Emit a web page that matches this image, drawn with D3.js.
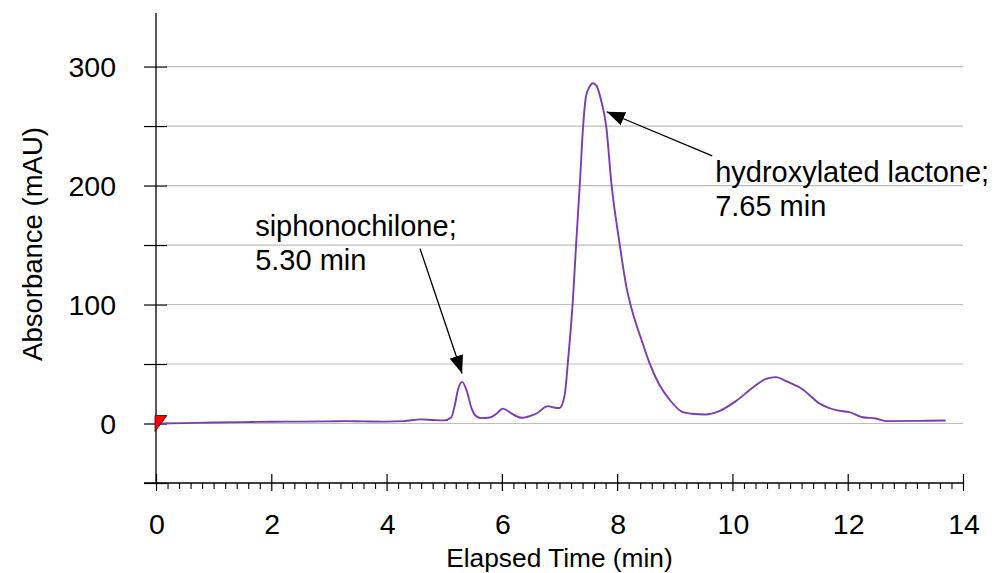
<!DOCTYPE html>
<html>
<head>
<meta charset="utf-8">
<script src="https://cdn.jsdelivr.net/npm/d3@7"></script>
<style>
  html, body { margin: 0; padding: 0; background: #fff; }
  svg { display: block; font-family: "Liberation Sans", Arial, Helvetica, sans-serif; }
</style>
</head>
<body>
<svg id="chart" width="995" height="573"></svg>
<script>
// ---- data ----
const times = [0, 0.5, 1, 1.5, 2, 2.5, 3, 3.3, 3.6, 4, 4.3, 4.6, 4.8, 5.0, 5.12, 5.18, 5.24, 5.31, 5.4, 5.47, 5.56, 5.65, 5.79, 5.9, 6.02, 6.15, 6.34, 6.5, 6.6, 6.8, 6.9, 7.0, 7.09, 7.15, 7.23, 7.29, 7.35, 7.41, 7.46, 7.52, 7.58, 7.64, 7.73, 7.81, 7.9, 8.04, 8.16, 8.27, 8.42, 8.56, 8.73, 8.91, 9.14, 9.3, 9.54, 9.77, 10.06, 10.35, 10.58, 10.76, 10.93, 11.22, 11.51, 11.8, 12.03, 12.26, 12.49, 12.66, 13.24, 13.7];
const absorbance = [0, 0.3, 0.8, 1.2, 1.5, 1.6, 1.8, 2, 1.8, 1.6, 2, 3.5, 3, 2.6, 5, 14.6, 28.5, 35, 26, 13.4, 6, 4.5, 5, 8, 12.5, 9, 4.8, 6.5, 8.4, 14.6, 13.5, 13, 24, 54, 102, 152, 199, 250, 275, 283, 286, 284, 270, 250, 202, 152, 115, 93, 70.6, 51, 32.8, 20, 9.5, 8.2, 7.6, 10.4, 18.8, 30, 37.5, 39, 35.6, 28.6, 16.8, 11.2, 9.5, 5.3, 4.2, 2, 2.2, 2.5];

const xTickValues = [0, 2, 4, 6, 8, 10, 12, 14];
const yTickLabels = [0, 100, 200, 300];
const yGridValues = [-50, 0, 50, 100, 150, 200, 250, 300];

const xTitle = "Elapsed Time (min)";
const yTitle = "Absorbance (mAU)";

const annotationLines = [["siphonochilone;", "5.30 min"], ["hydroxylated lactone;", "7.65 min"]];
const annotationTextPos = [[1.72, 158], [9.70, 203]];      // data coords (min, mAU) of first-line baseline
const annotationArrowFrom = [[4.58, 147], [9.65, 225]];
const annotationArrowTo = [[5.31, 42], [7.82, 262]];

// ---- layout ----
const svg = d3.select("#chart");
const x = d3.scaleLinear().domain([0, 14]).range([156, 963]);
const y = d3.scaleLinear().domain([-50, 345]).range([483, 13]);

const fontTick = 28.5, fontXTitle = 26.3, fontYTitle = 27.5, fontAnno = 29;

// gridlines
svg.append("g").selectAll("line").data(yGridValues.filter(d => d >= 0)).join("line")
  .attr("x1", x(0) + 10).attr("x2", x(14))
  .attr("y1", d => y(d)).attr("y2", d => y(d))
  .attr("stroke", "#bdbdbd").attr("stroke-width", 1.2);

// y axis
const yAxis = d3.axisLeft(y).tickValues(yGridValues).tickSize(12).tickFormat("");
const gy = svg.append("g").attr("transform", `translate(${x(0)},0)`).call(yAxis);
gy.select(".domain").remove();
gy.selectAll(".tick line").attr("x1", -12).attr("x2", 11).attr("stroke", "#000").attr("stroke-width", 1.2);
svg.append("line").attr("x1", x(0)).attr("x2", x(0)).attr("y1", y(345)).attr("y2", y(-50))
  .attr("stroke", "#000").attr("stroke-width", 1.3);
svg.append("g").selectAll("text").data(yTickLabels).join("text")
  .attr("x", x(0) - 40).attr("y", d => y(d)).attr("dy", "0.36em")
  .attr("text-anchor", "end").attr("font-size", fontTick).text(d => d);

// x axis
const minorTicks = d3.range(0, 14.0001, 0.2).filter(v => Math.abs(v / 2 - Math.round(v / 2)) > 1e-6);
const gxMinor = svg.append("g").attr("transform", `translate(0,${y(-50)})`)
  .call(d3.axisBottom(x).tickValues(minorTicks).tickSizeInner(6).tickSizeOuter(0).tickFormat(""));
gxMinor.select(".domain").remove();
gxMinor.selectAll(".tick line").attr("stroke", "#000").attr("stroke-width", 1.1);
const gxMajor = svg.append("g").attr("transform", `translate(0,${y(-50)})`)
  .call(d3.axisBottom(x).tickValues(xTickValues).tickSizeOuter(0).tickFormat(""));
gxMajor.select(".domain").remove();
gxMajor.selectAll(".tick line").attr("y1", -9).attr("y2", 8).attr("stroke", "#000").attr("stroke-width", 1.2);
svg.append("line").attr("x1", x(0) - 12).attr("x2", x(14)).attr("y1", y(-50)).attr("y2", y(-50))
  .attr("stroke", "#000").attr("stroke-width", 1.3);
svg.append("g").selectAll("text").data(xTickValues).join("text")
  .attr("x", d => x(d) + 1).attr("y", y(-50) + 51)
  .attr("text-anchor", "middle").attr("font-size", fontTick).text(d => d);

// axis titles
svg.append("text").attr("x", (x(0) + x(14)) / 2).attr("y", 567)
  .attr("text-anchor", "middle").attr("font-size", fontXTitle).text(xTitle);
svg.append("text").attr("transform", `translate(42,${244}) rotate(-90)`)
  .attr("text-anchor", "middle").attr("font-size", fontYTitle).text(yTitle);

// trace
const pts = times.map((t, i) => [t, absorbance[i]]);
svg.append("path").datum(pts)
  .attr("fill", "none").attr("stroke", "#7a3cb4").attr("stroke-width", 1.9)
  .attr("stroke-linejoin", "round")
  .attr("d", d3.line().x(d => x(d[0])).y(d => y(d[1])).curve(d3.curveMonotoneX));

// start marker
const mx = x(0) - 1, my = y(0);
svg.append("path")
  .attr("d", `M${mx},${my - 8} L${mx + 12},${my - 8} L${mx},${my + 8} Z`)
  .attr("fill", "#ff0000").attr("stroke", "#400000").attr("stroke-width", 0.8);

// arrows
const defs = svg.append("defs");
defs.append("marker").attr("id", "ah").attr("markerUnits", "userSpaceOnUse")
  .attr("viewBox", "0 0 18 14").attr("refX", 18).attr("refY", 7)
  .attr("markerWidth", 18).attr("markerHeight", 14).attr("orient", "auto")
  .append("path").attr("d", "M0,0 L18,7 L0,14 Z").attr("fill", "#000");

annotationArrowFrom.forEach((f, i) => {
  const t = annotationArrowTo[i];
  svg.append("line")
    .attr("x1", x(f[0])).attr("y1", y(f[1]))
    .attr("x2", x(t[0])).attr("y2", y(t[1]))
    .attr("stroke", "#000").attr("stroke-width", 1.3)
    .attr("marker-end", "url(#ah)");
});

annotationLines.forEach((lines, i) => {
  const p = annotationTextPos[i];
  const tx = svg.append("text").attr("x", x(p[0])).attr("y", y(p[1]))
    .attr("font-size", fontAnno).attr("fill", "#000");
  lines.forEach((l, j) => {
    tx.append("tspan").attr("x", x(p[0])).attr("dy", j === 0 ? 0 : 34).text(l);
  });
});
</script>
</body>
</html>
